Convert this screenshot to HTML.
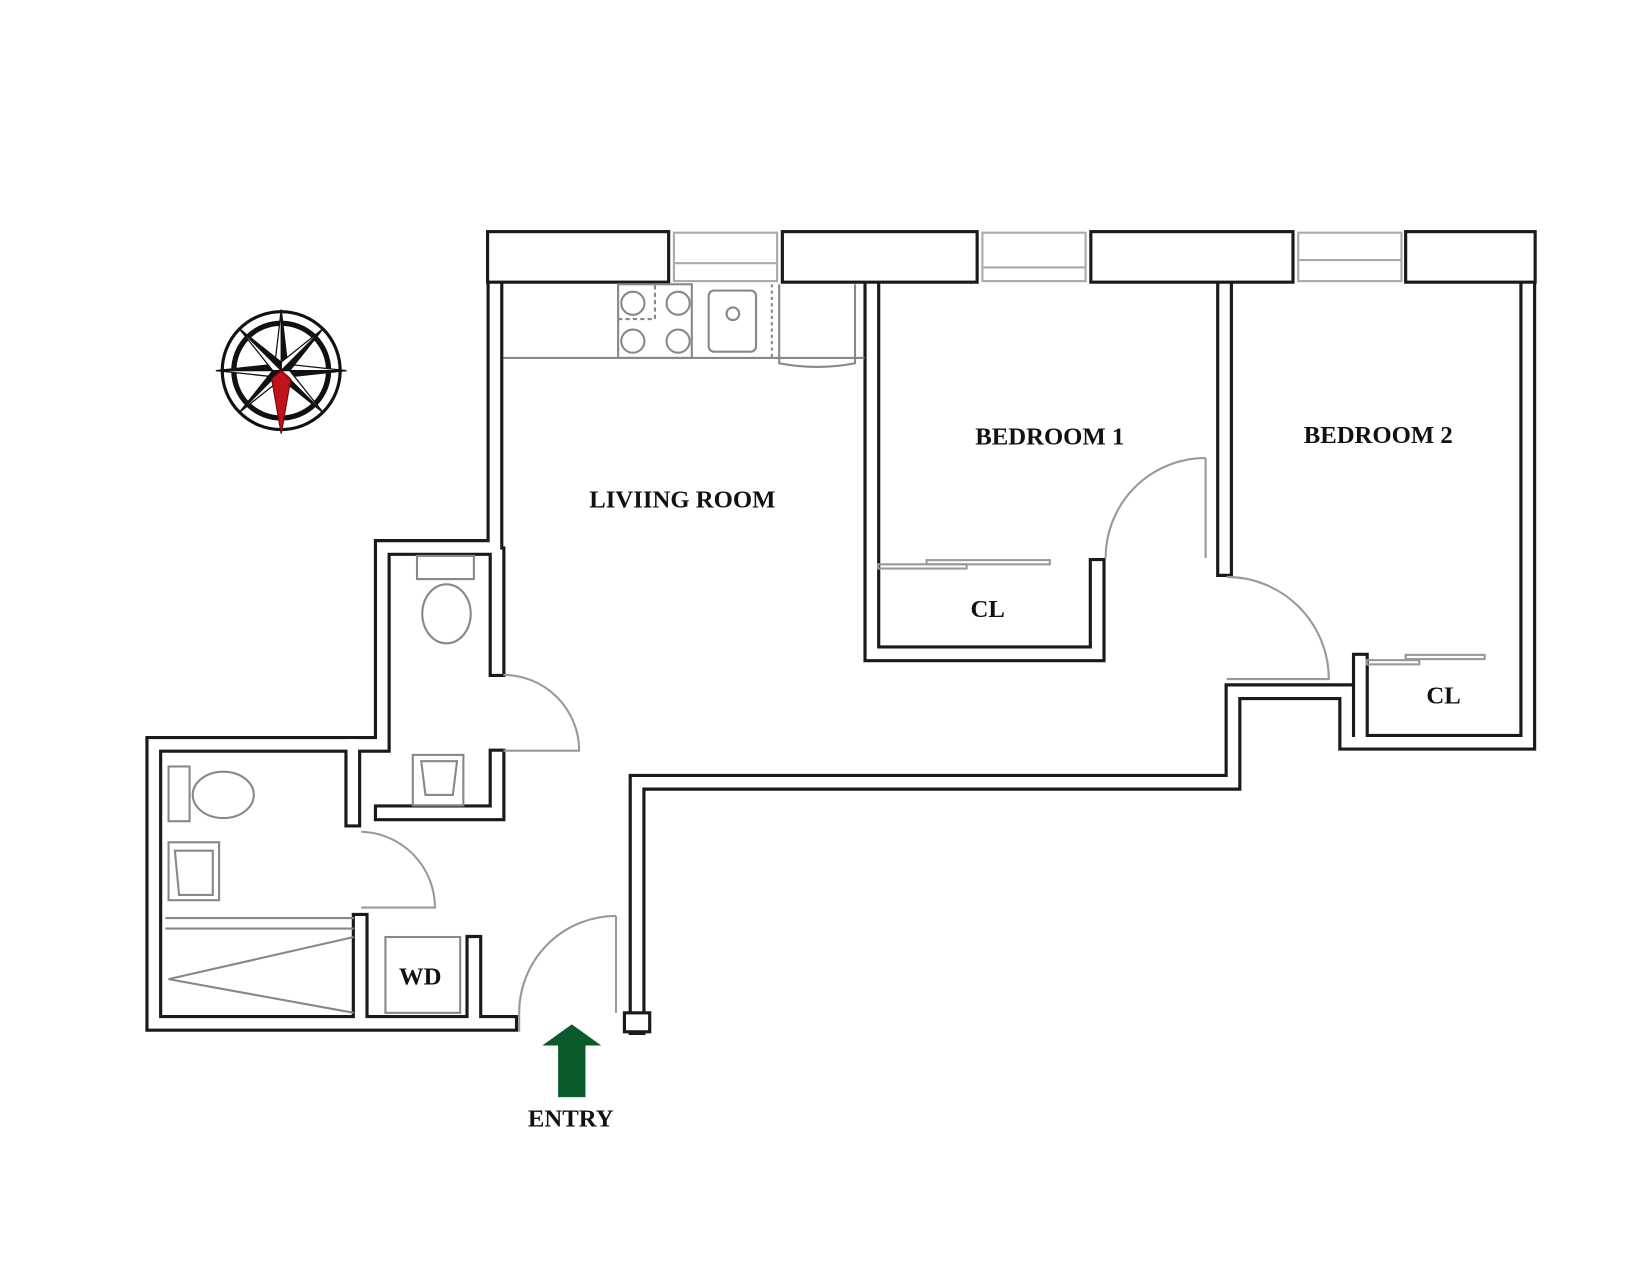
<!DOCTYPE html>
<html><head><meta charset="utf-8"><style>
html,body{margin:0;padding:0;background:#fff;}
svg{display:block}
text{font-family:"Liberation Serif",serif;font-weight:bold;fill:#111;}
</style></head><body>
<svg width="1650" height="1275" viewBox="0 0 1567 1211" xmlns="http://www.w3.org/2000/svg">
<rect width="1567" height="1211" fill="#fff"/>
<g stroke="#aaa" stroke-width="2" fill="none">
<rect x="640" y="221" width="98" height="46"/><line x1="640" y1="250" x2="738" y2="250"/>
<rect x="933" y="221" width="98" height="46"/><line x1="933" y1="254" x2="1031" y2="254"/>
<rect x="1233" y="221" width="98" height="46"/><line x1="1233" y1="247" x2="1331" y2="247"/>
</g>
<g fill="none" stroke="#1a1a1a" stroke-width="16" stroke-linejoin="miter" stroke-linecap="square">
<path d="M470,268 V520 H363 V707 H146 V972 H484"/>
<path d="M472,527 V635 M472,719 V772 H363 M335,707 V778"/>
<path d="M342,875 V966 M450,896 V966"/>
<path d="M605,975 V743 H1171 V657 H1279 V705 H1451 V268"/>
<path d="M828,268 V621 H1042 V538"/>
<path d="M1163,268 V540"/>
<path d="M1292,628 V700"/>
</g>
<g fill="none" stroke="#fff" stroke-width="10" stroke-linejoin="miter" stroke-linecap="square">
<path d="M470,268 V520 H363 V707 H146 V972 H484"/>
<path d="M472,527 V635 M472,719 V772 H363 M335,707 V778"/>
<path d="M342,875 V966 M450,896 V966"/>
<path d="M605,975 V743 H1171 V657 H1279 V705 H1451 V268"/>
<path d="M828,268 V621 H1042 V538"/>
<path d="M1163,268 V540"/>
<path d="M1292,628 V700"/>
</g>
<rect x="593" y="962" width="24" height="18" fill="#fff" stroke="#1a1a1a" stroke-width="3"/>
<g fill="#fff" stroke="#1a1a1a" stroke-width="3">
<rect x="463" y="220" width="172" height="48"/>
<rect x="743" y="220" width="185" height="48"/>
<rect x="1036" y="220" width="192" height="48"/>
<rect x="1335" y="220" width="123" height="48"/>
</g>
<g fill="none" stroke="#888" stroke-width="2">
<line x1="478" y1="340" x2="821" y2="340"/>
<rect x="587" y="270" width="70" height="70"/>
<circle cx="601" cy="288" r="11"/><circle cx="644" cy="288" r="11"/>
<circle cx="601" cy="324" r="11"/><circle cx="644" cy="324" r="11"/>
<path d="M587,303 H622 V270" stroke-dasharray="4,3"/>
<rect x="673" y="276" width="45" height="58" rx="5"/>
<circle cx="696" cy="298" r="6"/>
<line x1="733" y1="270" x2="733" y2="340" stroke-dasharray="3,3"/>
<path d="M740,270 V345 Q776,352 812,345 V270"/>
</g>
<g fill="none" stroke="#999" stroke-width="2">
<path d="M478,641 A72,72 0 0 1 550,713 H478"/>
<path d="M343,790 A72,72 0 0 1 413,862 H343"/>
<path d="M585,870 V962 M585,870 A92,92 0 0 0 493,962 V980"/>
<path d="M1145,435 V530 M1145,435 A95,95 0 0 0 1050,530"/>
<path d="M1165,548 A97,97 0 0 1 1262,645 H1165"/>
<rect x="834" y="536" width="84" height="4"/><rect x="880" y="532" width="117" height="4"/>
<rect x="1298" y="627" width="50" height="4"/><rect x="1335" y="622" width="75" height="4"/>
</g>
<g fill="none" stroke="#888" stroke-width="2">
<rect x="396" y="528" width="54" height="22"/>
<ellipse cx="424" cy="583" rx="23" ry="28"/>
<rect x="392" y="717" width="48" height="48"/>
<path d="M400,723 H434 L430,755 H404 Z"/>
<rect x="160" y="728" width="20" height="52"/>
<ellipse cx="212" cy="755" rx="29" ry="22"/>
<rect x="160" y="800" width="48" height="55"/>
<path d="M166,808 H202 V850 H170 Z"/>
<line x1="157" y1="872" x2="336" y2="872"/><line x1="157" y1="882" x2="336" y2="882"/>
<path d="M336,890 L160,930 L336,962"/>
<rect x="366" y="890" width="71" height="72"/>
</g>
<g transform="translate(267,352)">
<circle r="56" fill="none" stroke="#111" stroke-width="3"/>
<circle r="45" fill="none" stroke="#111" stroke-width="5"/>
<g stroke="#111" stroke-width="1.2">
<polygon points="0,-58 6,-6 0,0" fill="#111"/><polygon points="0,-58 -6,-6 0,0" fill="#fff"/>
<polygon points="62,0 6,6 0,0" fill="#111"/><polygon points="62,0 6,-6 0,0" fill="#fff"/>
<polygon points="-62,0 -6,-6 0,0" fill="#111"/><polygon points="-62,0 -6,6 0,0" fill="#fff"/>
<polygon points="40,-40 8,0 0,0" fill="#111"/><polygon points="40,-40 0,-8 0,0" fill="#fff"/>
<polygon points="-40,-40 0,-8 0,0" fill="#111"/><polygon points="-40,-40 -8,0 0,0" fill="#fff"/>
<polygon points="40,40 0,8 0,0" fill="#111"/><polygon points="40,40 8,0 0,0" fill="#fff"/>
<polygon points="-40,40 -8,0 0,0" fill="#111"/><polygon points="-40,40 0,8 0,0" fill="#fff"/>
<polygon points="0,60 -9,8 0,0 9,8" fill="#c0141a" stroke="#7a0a0a"/>
</g>
</g>
<polygon points="543,973 571,993 556,993 556,1042 530,1042 530,993 515,993" fill="#0b5a2b"/>
<g font-size="23.5" text-anchor="middle">
<text x="648" y="482">LIVIING ROOM</text>
<text x="997" y="422">BEDROOM 1</text>
<text x="1309" y="421">BEDROOM 2</text>
<text x="938" y="586">CL</text>
<text x="1371" y="668">CL</text>
<text x="399" y="935">WD</text>
<text x="542" y="1070">ENTRY</text>
</g>
</svg>
</body></html>
